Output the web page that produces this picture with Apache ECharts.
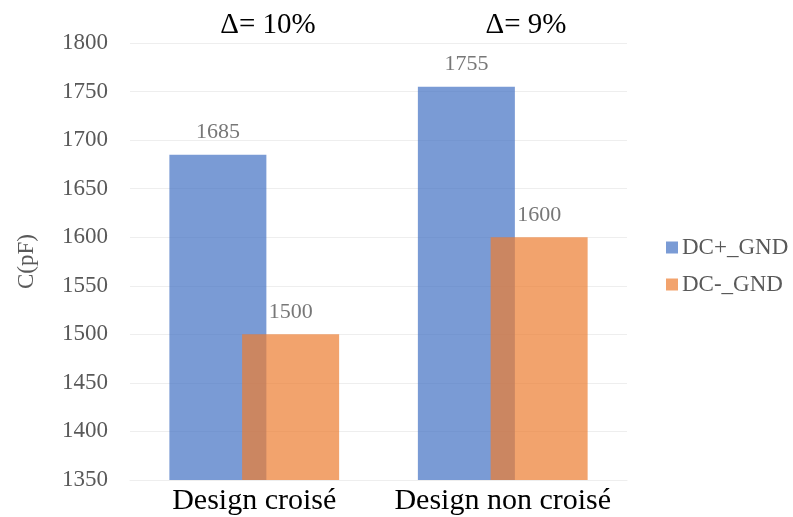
<!DOCTYPE html>
<html>
<head>
<meta charset="utf-8">
<script src="https://cdn.jsdelivr.net/npm/echarts@6/dist/echarts.min.js"></script>
<style>html,body{margin:0;padding:0;background:#fff;}#c{width:793px;height:517px;}</style>
</head>
<body>
<div id="c"></div>
<script>
const categories = ['Design croisé', 'Design non croisé'];
const seriesNames = ['DC+_GND', 'DC-_GND'];
const dcPlus = [1685, 1755];
const dcMinus = [1500, 1600];
const deltaLabels = ['Δ= 10%', 'Δ= 9%'];
const yMin = 1350, yMax = 1800, yStep = 50;

const serif = '"Liberation Serif", "DejaVu Serif", serif';
const chart = echarts.init(document.getElementById('c'), null, {renderer: 'canvas'});
chart.setOption({
  animation: false,
  backgroundColor: '#ffffff',
  title: [
    {text: deltaLabels[0], left: 263, top: 6, textAlign: 'center',
     textStyle: {fontFamily: serif, fontSize: 29, fontWeight: 'normal', color: '#000'}},
    {text: deltaLabels[1], left: 521, top: 6, textAlign: 'center',
     textStyle: {fontFamily: serif, fontSize: 29, fontWeight: 'normal', color: '#000'}}
  ],
  grid: {left: 130, right: 166, top: 43, bottom: 37, containLabel: false},
  legend: {
    orient: 'vertical', left: 661, top: 231, itemWidth: 12, itemHeight: 12, itemGap: 14,
    icon: 'rect',
    textStyle: {fontFamily: serif, fontSize: 23, color: '#595959', padding: [0, 0, 0, -1]},
    data: seriesNames
  },
  xAxis: {
    type: 'category', data: categories,
    axisLine: {show: true, lineStyle: {color: '#eeeeee', width: 1}},
    axisTick: {show: false},
    axisLabel: {fontFamily: serif, fontSize: 30, color: '#000', margin: 6,
                interval: 0, hideOverlap: false}
  },
  yAxis: {
    type: 'value', min: yMin, max: yMax, interval: yStep,
    name: 'C(pF)', nameLocation: 'middle', nameGap: 92, nameRotate: 90,
    nameTextStyle: {fontFamily: serif, fontSize: 23, color: '#595959'},
    axisLine: {show: false}, axisTick: {show: false},
    axisLabel: {fontFamily: serif, fontSize: 23, color: '#595959', margin: 22,
                formatter: v => String(v)},
    splitLine: {lineStyle: {color: '#eeeeee', width: 1}}
  },
  series: [
    {name: seriesNames[0], type: 'bar', data: dcPlus, barWidth: 97, barGap: '-25%',
     itemStyle: {color: '#4472C4', opacity: 0.71},
     label: {show: true, position: 'top', distance: 11, fontFamily: serif, fontSize: 22, color: '#404040'}},
    {name: seriesNames[1], type: 'bar', data: dcMinus, barWidth: 97,
     itemStyle: {color: '#ED7D31', opacity: 0.71},
     label: {show: true, position: 'top', distance: 11, fontFamily: serif, fontSize: 22, color: '#404040'}}
  ]
});
</script>
</body>
</html>
